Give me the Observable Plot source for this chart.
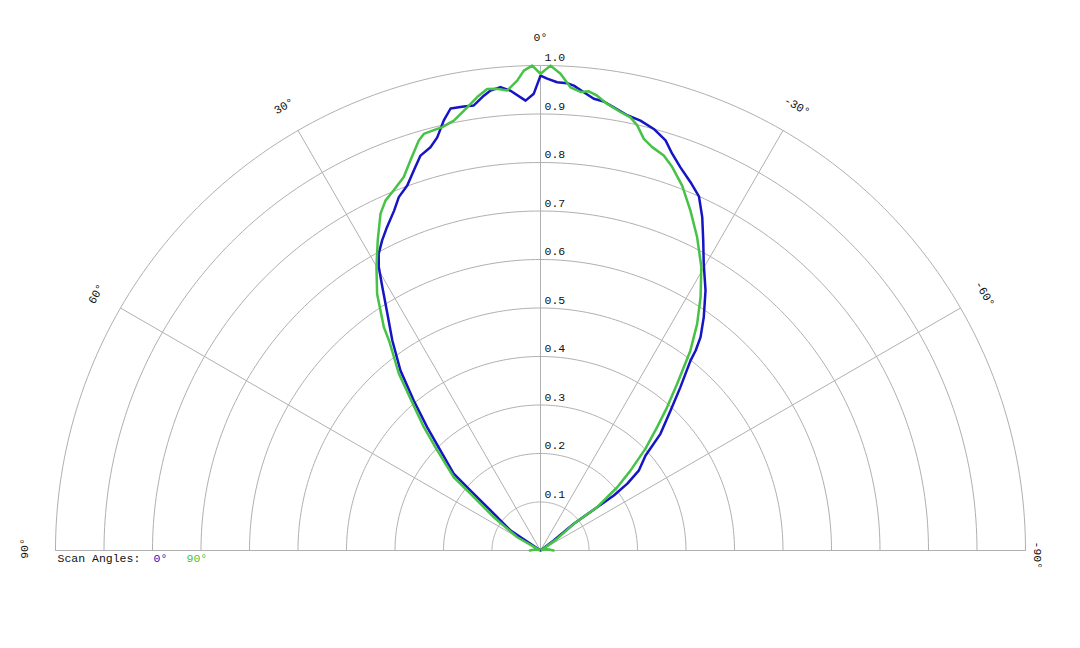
<!DOCTYPE html>
<html><head><meta charset="utf-8">
<script src="https://cdn.jsdelivr.net/npm/d3@7"></script>
<script src="https://cdn.jsdelivr.net/npm/@observablehq/plot@0.6"></script>
<style>body{margin:0;background:#fff}</style>
</head><body><div id="chart"></div>
<script>
// Polar data: angle in degrees (0 = up, positive = left), relative radius
const blueAngles = [90,60,56,56.3,51.3,49.4,48.5,45,42.6,40.2,37.9,35.2,32.9,31,29.7,28.6,27.05,25.4,23.3,21.85,20.06,18.44,16.9,15.26,14.03,12.67,11.5,9.8,8.52,7.1,6.2,4.93,3.73,1.9,0.84,0,-0.81,-2.04,-3.27,-4.1,-5.4,-6.73,-8.02,-9.39,-11.27,-13.09,-15.04,-16.96,-18.36,-20.06,-22.16,-24.1,-25.88,-27.69,-29.67,-32.4,-34.99,-36.87,-37.8,-38.3,-40.6,-42.9,-45.8,-47.9,-50.9,-52.4,-53.1,-52.6,-51.3,-53,-58,-90];
const blueR = [0,0,0.025,0.074,0.132,0.19,0.239,0.292,0.345,0.405,0.47,0.53,0.581,0.633,0.673,0.697,0.718,0.738,0.763,0.785,0.801,0.826,0.851,0.862,0.878,0.909,0.93,0.929,0.928,0.945,0.954,0.959,0.95,0.928,0.942,0.979,0.973,0.966,0.965,0.961,0.949,0.938,0.935,0.926,0.915,0.91,0.9,0.884,0.862,0.841,0.82,0.8,0.764,0.722,0.68,0.635,0.587,0.55,0.522,0.499,0.443,0.394,0.345,0.292,0.261,0.226,0.189,0.147,0.088,0.034,0,0];
const greenAngles = [90,80,65,60.3,54.5,51,49.8,45.9,43.4,40.9,38.7,35.8,35.06,32.5,30.07,27.7,25.4,23.9,22.17,20.11,18.43,16.53,15.65,13.76,13.07,11.4,9.39,7.95,6.59,5.36,4.14,2.84,1.99,0.98,0,-1.18,-2.4,-3.7,-4.99,-6,-7.1,-8.49,-10.34,-11.73,-12.82,-14.09,-15.48,-17.34,-18.96,-21.22,-23.8,-26.57,-29.57,-32.28,-34.65,-36.87,-39.36,-41.48,-43.4,-45.9,-48.4,-50.5,-52.6,-51.3,-55,-65,-80,-90];
const greenR = [0.022,0.012,0.003,0.055,0.118,0.186,0.234,0.296,0.35,0.404,0.467,0.534,0.562,0.627,0.675,0.722,0.769,0.789,0.802,0.82,0.848,0.882,0.892,0.895,0.896,0.904,0.926,0.944,0.958,0.956,0.951,0.97,0.99,1.0,0.983,1.0,0.984,0.957,0.949,0.952,0.945,0.931,0.919,0.912,0.899,0.875,0.863,0.853,0.836,0.807,0.766,0.722,0.672,0.618,0.568,0.515,0.444,0.394,0.35,0.301,0.248,0.205,0.147,0.088,0.04,0.003,0.015,0.027];
const gridRadii = [0.1,0.2,0.3,0.4,0.5,0.6,0.7,0.8,0.9,1.0];
const radiusLabels = ["0.1","0.2","0.3","0.4","0.5","0.6","0.7","0.8","0.9","1.0"];
const angleTicks = [90,60,30,0,-30,-60,-90];
const angleLabels = ["90°","60°","30°","0°","-30°","-60°","-90°"];
const seriesNames = ["0°","90°"];
const seriesColors = ["#1515c4","#46c246"];
const legendTitle = "Scan Angles:";

const rad = a => a * Math.PI / 180;
const px = (a, r) => -r * Math.sin(rad(a));
const py = (a, r) => r * Math.cos(rad(a));

const toPoints = (angles, radii, name) => angles.map((a, i) => ({a, r: radii[i], name}));
const series = [
  ...toPoints(blueAngles, blueR, seriesNames[0]),
  ...toPoints(greenAngles, greenR, seriesNames[1])
];
const circlePts = gridRadii.flatMap(r => d3.range(-90, 90.5, 1).map(a => ({a, r})));
const spokes = angleTicks.map(a => ({a}));
const labelR = 1.058;
const ticks = angleTicks.map((a, i) => ({a, label: angleLabels[i]}));
const innerTicks = ticks.filter(d => Math.abs(d.a) < 90);
const leftTick = ticks.filter(d => d.a === 90);
const rightTick = ticks.filter(d => d.a === -90);

const font = "'Liberation Mono', 'Courier New', monospace";
const fs = 11.5;
const ink = "#111";

const plot = Plot.plot({
  width: 1080,
  height: 648,
  marginLeft: 55,
  marginRight: 55,
  marginTop: 65,
  marginBottom: 98,
  x: {domain: [-1, 1], axis: null},
  y: {domain: [0, 1], axis: null},
  color: {domain: seriesNames, range: seriesColors},
  style: {fontFamily: font, fontSize: fs + "px", background: "#fff"},
  marks: [
    Plot.line(circlePts, {x: d => px(d.a, d.r), y: d => py(d.a, d.r), z: "r", stroke: "#b0b0b0", strokeWidth: 1}),
    Plot.link(spokes, {x1: 0, y1: 0, x2: d => px(d.a, 1), y2: d => py(d.a, 1), stroke: "#b0b0b0", strokeWidth: 1}),
    Plot.text(gridRadii, {x: 0, y: d => d, text: (d, i) => radiusLabels[i], textAnchor: "start", dx: 4, dy: -8, fill: ink, fontSize: fs}),
    Plot.text(innerTicks, {x: d => px(d.a, labelR), y: d => py(d.a, labelR), text: "label", rotate: d => -d.a, textAnchor: "middle", fill: ink, fontSize: fs}),
    Plot.text(leftTick, {x: d => px(d.a, labelR), y: d => py(d.a, labelR), text: "label", rotate: d => -d.a, textAnchor: "middle", dx: -3, dy: -2, fill: ink, fontSize: fs}),
    Plot.text(rightTick, {x: d => px(d.a, 1), y: d => py(d.a, 1), text: "label", rotate: d => -d.a, textAnchor: "start", dx: 12, dy: -9, fill: ink, fontSize: fs}),
    Plot.line(series, {x: d => px(d.a, d.r), y: d => py(d.a, d.r), z: "name", stroke: "name", strokeWidth: 2.5, strokeLinejoin: "round", strokeLinecap: "round"}),
    Plot.text([legendTitle], {frameAnchor: "bottom-left", text: d => d, textAnchor: "start", dx: 2, dy: 11, fill: ink, fontSize: fs}),
    Plot.text([seriesNames[0]], {frameAnchor: "bottom-left", text: d => d, fill: seriesColors[0], textAnchor: "start", dx: 98, dy: 11, fontSize: fs}),
    Plot.text([seriesNames[1]], {frameAnchor: "bottom-left", text: d => d, fill: seriesColors[1], textAnchor: "start", dx: 131, dy: 11, fontSize: fs})
  ]
});
document.getElementById("chart").appendChild(plot);
</script>
</body></html>
